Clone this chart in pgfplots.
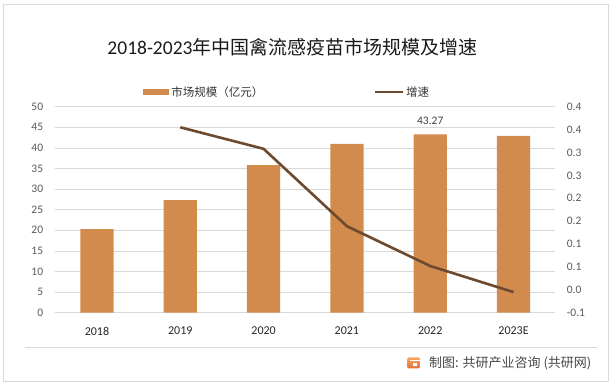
\documentclass[border=0pt]{standalone}
\usepackage{fontspec}
\setmainfont{Carlito}
\newfontfamily\cjk{Noto Sans CJK SC}
\usepackage{pgfplots}
\pgfplotsset{compat=1.18}
\definecolor{barc}{HTML}{D38B4D}
\definecolor{linec}{HTML}{6B4A2F}
\definecolor{gridc}{HTML}{D9D9D9}
\definecolor{tickc}{HTML}{595959}
\definecolor{titlec}{HTML}{1A1A1A}
\definecolor{logoa}{HTML}{F6A65E}
\definecolor{logob}{HTML}{E86F3A}
\begin{document}
\begin{tikzpicture}[x=1pt,y=1pt]
\useasboundingbox (0,0) rectangle (614,386);
\draw[gridc, line width=0.8pt] (3.3,4.3) rectangle (608.3,382);
\draw[gridc, line width=0.8pt] (25,38.5) -- (597,38.5);
\node[font=\fontsize{19.5}{22}\selectfont, text=titlec, inner sep=0pt] at (292.5,339) {2018-2023{\cjk\fontsize{19}{22}\selectfont 年中国禽流感疫苗市场规模及增速}};
% footer
\shade[top color=logoa, bottom color=logob, rounded corners=1.5pt] (407,17.5) rectangle (420,28.5);
\fill[white] (410,24.5) rectangle (420,26);
\fill[white] (413,20) rectangle (417,23);
\node[anchor=west, inner sep=0pt, font=\cjk\fontsize{13}{15}\selectfont, text=tickc!80!black] at (429,23) {制图: 共研产业咨询 (共研网)};

\begin{axis}[
  at={(55.3pt,73.3pt)}, anchor=south west, scale only axis,
  width=499.9pt, height=206pt,
  xmin=-0.5, xmax=5.5, ymin=0, ymax=50,
  ytick={0,5,...,50},
  xtick={0,1,2,3,4,5},
  xticklabels={2018,2019,2020,2021,2022,2023E},
  ymajorgrids, grid style={gridc, line width=0.8pt},
  axis lines*=left,
  y axis line style={draw=none},
  x axis line style={gridc, line width=0.8pt, -},
  major tick length=0pt,
  /pgf/number format/assume math mode=true,
  yticklabel style={font=\fontsize{11.5}{13}\selectfont, text=tickc, anchor=east, inner sep=0pt, xshift=-12pt},
  xticklabel style={font=\fontsize{12}{14}\selectfont, text=black!85, anchor=center, inner sep=0pt, yshift=-18.3pt},
  legend style={draw=none, fill=none, at={(0.176,1.071)}, anchor=west, legend columns=2,
    font=\cjk\fontsize{11.5}{13}\selectfont, text=black!80, inner sep=0pt,
    /tikz/every even column/.append style={column sep=108pt}},
  legend cell align=left,
]
\addplot[ybar, bar width=33.3pt, fill=barc, draw=none, bar shift=0pt,
  point meta=explicit symbolic, nodes near coords,
  every node near coord/.append style={anchor=center, yshift=14pt, inner sep=0pt, font=\fontsize{11.5}{13}\selectfont, text=black!75},
  legend image code/.code={\fill[barc] (0pt,-2.9pt) rectangle (26pt,2.9pt);}]
  coordinates {(0,20.3)[] (1,27.35)[] (2,35.85)[] (3,40.95)[] (4,43.27)[43.27] (5,42.9)[]};
\addlegendentry{市场规模（亿元）}
\addlegendimage{linec, line width=2.6pt, legend image code/.code={\draw[linec, line width=2.6pt] (0pt,0pt) -- (28pt,0pt);}}
\addlegendentry{增速}
\end{axis}

\begin{axis}[
  at={(55.3pt,73.3pt)}, anchor=south west, scale only axis,
  width=499.9pt, height=206pt,
  xmin=-0.5, xmax=5.5, ymin=-0.05, ymax=0.4,
  axis y line*=right, axis x line=none,
  y axis line style={draw=none},
  major tick length=0pt,
  ytick={-0.05,0,0.05,0.1,0.15,0.2,0.25,0.3,0.35,0.4},
  yticklabels={-0.1,0.0,0.1,0.1,0.2,0.2,0.3,0.3,0.4,0.4},
  yticklabel style={font=\fontsize{11.5}{13}\selectfont, text=tickc, anchor=west, inner sep=0pt, xshift=11.5pt},
]
\addplot[linec, line width=2.6pt, line join=round, no marks]
  coordinates {(1,0.355) (2,0.308) (3,0.139) (4,0.052) (5,-0.005)};
\end{axis}
\end{tikzpicture}
\end{document}
